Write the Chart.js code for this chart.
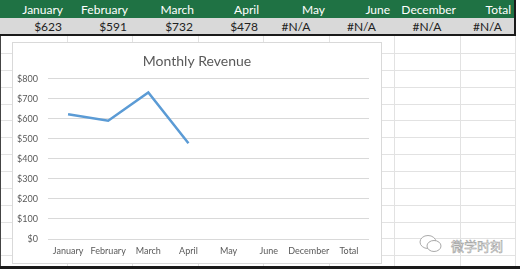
<!DOCTYPE html>
<html>
<head>
<meta charset="utf-8">
<script src="https://cdn.jsdelivr.net/npm/chart.js@4"></script>
<style>
  html, body { margin: 0; padding: 0; }
  body { width: 520px; height: 269px; position: relative; overflow: hidden; background: #fff; font-family: Lato, "Noto Sans", sans-serif; }
  .hl { position: absolute; left: 0; width: 515px; height: 1px; background: #e2e2e2; }
  .vl { position: absolute; top: 36px; width: 1px; height: 230px; background: #e2e2e2; }
  #head { position: absolute; left: 0; top: 0; width: 515px; height: 18px; background: #1f7244; }
  #vals { position: absolute; left: 0; top: 18px; width: 515px; height: 16px; background: #d9d9d9; border-bottom: 2px solid #1a1a1a; }
  .cell { position: absolute; top: 0; height: 100%; font-size: 12px; white-space: nowrap; box-sizing: border-box; }
  #head .cell { color: #fff; text-align: right; padding-right: 4px; line-height: 19px; }
  #vals .cell { color: #222; text-align: right; padding-right: 5px; line-height: 17px; }
  #vals .cell.na { text-align: center; padding-right: 0; }
  #chartBox { position: absolute; left: 12px; top: 42px; width: 368px; height: 220px; background: #fff; border: 1px solid #d9d9d9; }
  #chart { position: absolute; left: 0; top: 0; }
  #mark { position: absolute; left: 418px; top: 234px; }
  #mark span { position: absolute; left: 33px; top: 2px; font-family: "Noto Sans CJK SC"; font-size: 13px; color: #fff; -webkit-text-stroke: 0.5px #999; white-space: nowrap; }
</style>
</head>
<body>
<div id="grid"></div>
<div id="head"></div>
<div id="vals"></div>
<div style="position:absolute;left:514px;top:0;width:2px;height:36px;background:#1a1a1a"></div>
<div style="position:absolute;left:0;top:36px;width:1px;height:233px;background:#444"></div>
<div style="position:absolute;left:0;top:266px;width:520px;height:3px;background:#1a1a1a"></div>
<div id="chartBox"><canvas id="chart" width="368" height="220"></canvas></div>
<div id="mark">
  <svg width="26" height="20" viewBox="0 0 26 20">
    <ellipse cx="10" cy="8" rx="8" ry="6.5" fill="#fff" stroke="#aaa" stroke-width="1"/>
    <ellipse cx="16" cy="12" rx="7" ry="5.5" fill="#fff" stroke="#aaa" stroke-width="1"/>
  </svg>
  <span>微学时刻</span>
</div>
<script>
const categories = ["January", "February", "March", "April", "May", "June", "December", "Total"];
const revenue = [623, 591, 732, 478, null, null, null, null];
const yTicks = [0, 100, 200, 300, 400, 500, 600, 700, 800];

// spreadsheet column edges
const colEdges = [0, 67, 132, 198, 263, 329, 394, 460, 515];

function buildSheet() {
  const grid = document.getElementById("grid");
  for (let i = 0; i < 13; i++) {
    const d = document.createElement("div");
    d.className = "hl";
    d.style.top = Math.round(53 + i * 16.85) + "px";
    grid.appendChild(d);
  }
  for (let i = 1; i < colEdges.length; i++) {
    const d = document.createElement("div");
    d.className = "vl";
    d.style.left = colEdges[i] + "px";
    grid.appendChild(d);
  }
  const head = document.getElementById("head");
  const vals = document.getElementById("vals");
  categories.forEach((name, i) => {
    const left = colEdges[i], w = colEdges[i + 1] - colEdges[i];
    const h = document.createElement("div");
    h.className = "cell";
    h.style.left = left + "px";
    h.style.width = w + "px";
    h.textContent = name;
    head.appendChild(h);
    const v = document.createElement("div");
    v.className = "cell";
    v.style.left = left + "px";
    v.style.width = w + "px";
    if (revenue[i] == null) {
      v.classList.add("na");
      v.textContent = "#N/A";
    } else {
      v.textContent = "$" + revenue[i];
    }
    vals.appendChild(v);
  });
}

buildSheet();

const ctx = document.getElementById("chart").getContext("2d");
new Chart(ctx, {
  type: "line",
  data: {
    labels: categories,
    datasets: [{
      label: "Revenue",
      data: revenue,
      borderColor: "#5b9bd5",
      borderWidth: 2.5,
      pointRadius: 0,
      fill: false,
      tension: 0,
      spanGaps: false,
    }],
  },
  options: {
    responsive: false,
    animation: false,
    layout: { padding: 0 },
    plugins: {
      legend: { display: false },
      tooltip: { enabled: false },
      title: {
        display: true,
        text: "Monthly Revenue",
        color: "#595959",
        font: { family: "Lato", size: 14, weight: "normal" },
        padding: { top: 10, bottom: 9 },
      },
    },
    scales: {
      x: {
        offset: true,
        grid: { display: false, drawTicks: false },
        border: { display: false },
        ticks: { color: "#595959", font: { family: "Lato", size: 9 }, padding: 7, maxRotation: 0, autoSkip: false },
        afterFit: (s) => { s.height = 24; },
      },
      y: {
        min: yTicks[0],
        max: yTicks[yTicks.length - 1],
        afterBuildTicks: (s) => { s.ticks = yTicks.map(v => ({ value: v })); },
        grid: { color: "#d9d9d9", drawTicks: false },
        border: { display: false },
        ticks: {
          color: "#595959",
          font: { family: "Lato", size: 9 },
          padding: 10,
          callback: (v) => "$" + v,
        },
        afterFit: (s) => { s.width = 35; },
      },
      // empty right-hand spacer so the plot stops short of the box edge
      spacer: {
        type: "linear",
        position: "right",
        grid: { display: false, drawTicks: false },
        border: { display: false },
        ticks: { display: false },
        afterFit: (s) => { s.width = 12; },
      },
    },
  },
});
</script>
</body>
</html>
